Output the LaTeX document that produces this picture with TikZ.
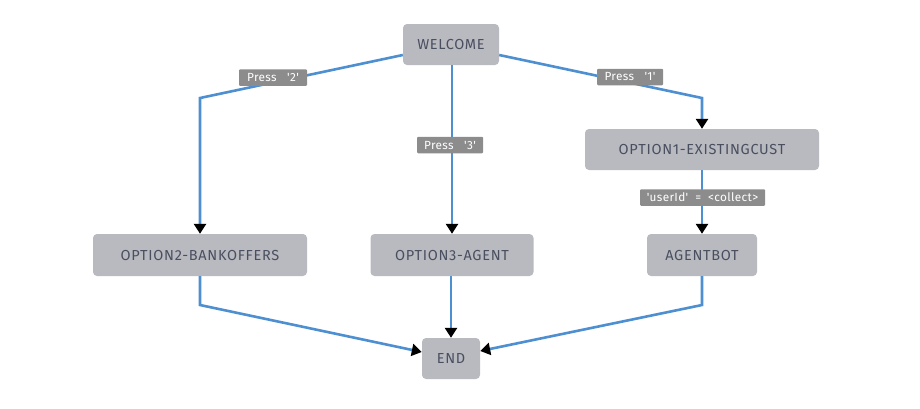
\documentclass[tikz,border=0pt]{standalone}
\usepackage{fontspec}
\setmainfont{Fira Sans}
\usetikzlibrary{arrows.meta,calc}
\definecolor{nodefill}{HTML}{B9BAC0}
\definecolor{nodetext}{HTML}{4A4F60}
\definecolor{linkblue}{HTML}{4D8FD0}
\definecolor{labfill}{HTML}{8C8C8C}
\newfontfamily\boxfont[LetterSpace=5]{Fira Sans}
\newfontfamily\labfont[LetterSpace=3]{Fira Sans}
\tikzset{
  box/.style={fill=nodefill, rounded corners=4pt, inner sep=0pt, minimum height=41pt,
    text=nodetext, font=\boxfont\fontsize{14.5}{16}\selectfont},
  lab/.style={fill=labfill, rounded corners=1pt, inner sep=0pt, minimum height=16.5pt,
    text=white, font=\labfont\fontsize{11.8}{13}\selectfont},
  link/.style={draw=linkblue, line width=2.6pt},
  arr/.style={link, -{Triangle[length=10pt,width=12pt,color=black]}}
}
\begin{document}
\begin{tikzpicture}[x=1pt,y=-1pt]
\useasboundingbox (0,0) rectangle (920,408);
% nodes
\node[box, minimum width=96pt] (welcome) at (451,44.5) {WELCOME};
\node[box, minimum width=234pt] (opt1) at (702,149.5) {OPTION1-EXISTINGCUST};
\node[box, minimum width=214pt, minimum height=42pt] (opt2) at (200,255) {OPTION2-BANKOFFERS};
\node[box, minimum width=163pt, minimum height=42pt] (opt3) at (452,255) {OPTION3-AGENT};
\node[box, minimum width=110pt, minimum height=42pt] (bot) at (702,255) {AGENTBOT};
\node[box, minimum width=58pt] (end) at (451,358.5) {END};
% corner points
\coordinate (cl) at (200,98);
\coordinate (cr) at (702,98);
\coordinate (bl) at (200,305);
\coordinate (br) at (702,305);
% connectors
\draw[arr] ($(welcome.west)+(0,10.5)$) -- (cl) -- (opt2.north);
\draw[arr] ($(welcome.east)+(0,10.5)$) -- (cr) -- (opt1.north);
\draw[arr] (welcome.south -| opt3.north) -- (opt3.north);
\draw[arr] (opt1.south) -- (bot.north);
\draw[arr] (opt2.south) -- (bl) -- ($(end.west)+(0,-6.5)$);
\draw[arr] (opt3.south -| end.north) -- (end.north);
\draw[arr] (bot.south) -- (br) -- ($(end.east)+(0,-7.5)$);
% labels
\node[lab, minimum width=68pt] (l2) at (273,77.5) {Press\ \ \ '2'};
\node[lab, minimum width=66pt] (l1) at (630,77) {Press\ \ \ '1'};
\node[lab, minimum width=66pt] (l3) at (450,145) {Press\ \ \ '3'};
\node[lab, minimum width=125pt] (lu) at (702.5,197.5) {'userId'\ \ =\ \ <collect>};
\end{tikzpicture}
\end{document}
